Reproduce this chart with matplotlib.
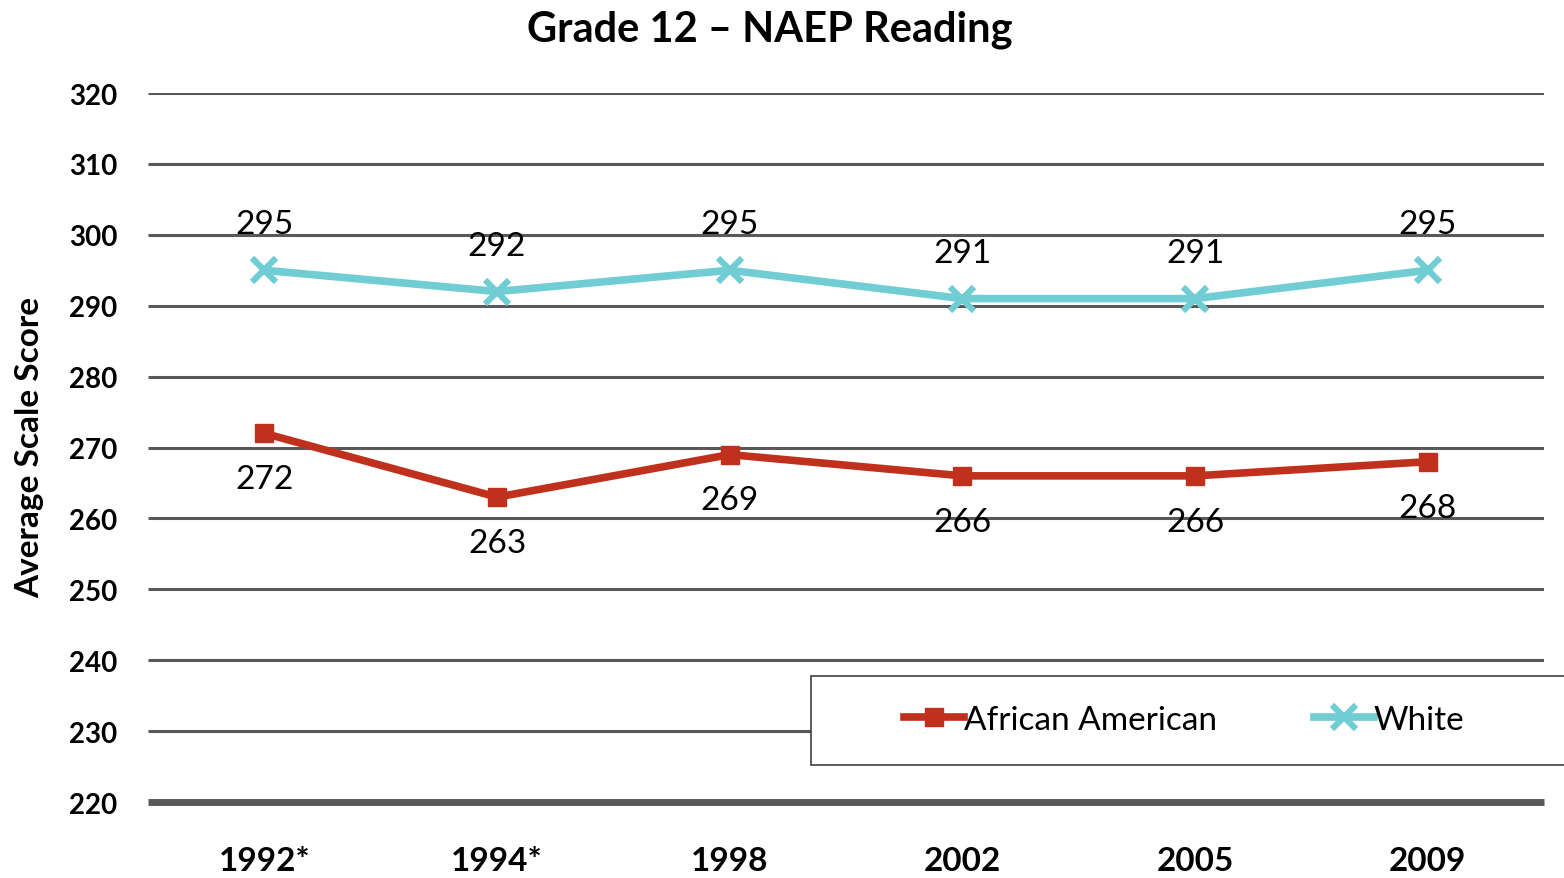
import matplotlib
matplotlib.use('Agg')

import matplotlib.pyplot as plt
from matplotlib.patches import Rectangle

years = ['1992*', '1994*', '1998', '2002', '2005', '2009']
african_american = [272, 263, 269, 266, 266, 268]
white = [295, 292, 295, 291, 291, 295]
yticks = list(range(220, 330, 10))

RED = '#C0311D'
CYAN = '#70CDD3'
GRID = '#595959'

plt.rcParams['font.family'] = ['Lato', 'DejaVu Sans']

W, H = 1564, 879
fig = plt.figure(figsize=(W / 100, H / 100), dpi=100)
ax = fig.add_axes([148 / W, 1 - 803 / H, (1544 - 148) / W, (803 - 94) / H])

x = list(range(len(years)))
ax.plot(x, african_american, color=RED, linewidth=5.5, marker='s', markersize=13,
        label='African American', zorder=3)
ax.plot(x, white, color=CYAN, linewidth=5.5, marker='x', markersize=17,
        markeredgewidth=4.5, label='White', zorder=3)

# data labels
for i, v in enumerate(white):
    ax.annotate(str(v), (i, v), xytext=(0, 33), textcoords='offset points',
                ha='center', va='center', fontsize=24)
for i, v in enumerate(african_american):
    ax.annotate(str(v), (i, v), xytext=(0, -33), textcoords='offset points',
                ha='center', va='center', fontsize=24)

ax.set_xlim(-0.5, len(years) - 0.5)
ax.set_ylim(220, 320)
ax.set_yticks(yticks)
ax.set_xticks(x)
ax.set_xticklabels(years, fontsize=24, fontweight='bold')
for lab in ax.get_yticklabels():
    lab.set_fontsize(20)
    lab.set_fontweight('bold')
ax.tick_params(axis='both', length=0)
ax.tick_params(axis='y', pad=22)
ax.tick_params(axis='x', pad=32)

for t in yticks[1:]:
    ax.axhline(t, color=GRID, linewidth=2.2, zorder=1, solid_capstyle='butt')
ax.axhline(220, color=GRID, linewidth=5, zorder=1, clip_on=False,
           solid_capstyle='butt')
for s in ax.spines.values():
    s.set_visible(False)

fig.text(30 / W, 1 - 448 / H, 'Average Scale Score', rotation=90, fontsize=24,
         fontweight='bold', ha='center', va='center')
fig.text(770 / W, 1 - 30 / H, 'Grade 12 \u2013 NAEP Reading', fontsize=30,
         fontweight='bold', ha='center', va='center')

# legend box, running off the right edge like the original
box = Rectangle((811 / W, 1 - 766 / H), 0.6, 89 / H, transform=fig.transFigure,
                facecolor='white', edgecolor='#404040', linewidth=1.2,
                zorder=4, clip_on=False)
fig.patches.append(box)

leg = fig.legend(loc='center left', bbox_to_anchor=(904 / W, 1 - 721 / H),
                 ncol=2, frameon=False, fontsize=24, handlelength=1.8,
                 handletextpad=0.0, borderpad=0, borderaxespad=0,
                 columnspacing=2.9)
leg.set_zorder(5)

fig.savefig('out.png', dpi=100)
plt.close(fig)
